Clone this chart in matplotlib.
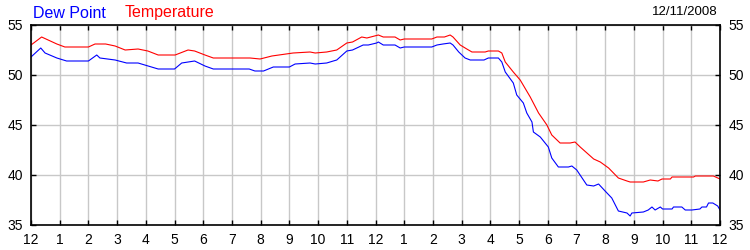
import matplotlib
matplotlib.use('Agg')
from matplotlib import pyplot as plt

# readings, hours since midnight
temp_hours = [0, 0.37, 0.9, 1.18, 2.0, 2.23, 2.6, 2.93, 3.28, 3.73, 4.07, 4.43, 5.02, 5.47, 5.7,
              6.06, 6.35, 7.63, 7.98, 8.39, 9.13, 9.72, 9.9, 10.3, 10.65, 11.0, 11.2, 11.52, 11.7,
              12.1, 12.27, 12.68, 12.86, 13.0, 13.96, 14.14, 14.4, 14.6, 14.7, 14.95, 15.18, 15.36,
              15.82, 15.93, 16.28, 16.4, 16.52, 16.8, 17.04, 17.39, 17.68, 17.97, 18.14, 18.43,
              18.78, 18.95, 19.13, 19.6, 19.83, 20.12, 20.46, 20.76, 20.87, 21.33, 21.57, 21.84,
              21.98, 22.27, 22.33, 23.08, 23.14, 23.77, 24.0]
temperature = [53.0, 53.8, 53.1, 52.8, 52.8, 53.1, 53.1, 52.9, 52.5, 52.6, 52.4, 52.0, 52.0, 52.5, 52.4,
               52.0, 51.7, 51.7, 51.6, 51.9, 52.2, 52.3, 52.2, 52.3, 52.5, 53.2, 53.3, 53.8, 53.7,
               54.0, 53.8, 53.8, 53.5, 53.6, 53.6, 53.8, 53.8, 54.0, 53.8, 53.0, 52.6, 52.3,
               52.3, 52.4, 52.4, 52.2, 51.3, 50.3, 49.5, 47.8, 46.2, 45.0, 44.0, 43.2,
               43.2, 43.3, 42.8, 41.6, 41.3, 40.7, 39.7, 39.4, 39.3, 39.3, 39.5, 39.4,
               39.6, 39.6, 39.8, 39.8, 39.9, 39.9, 39.6]

dew_hours = [0, 0.34, 0.49, 0.9, 1.24, 2.0, 2.29, 2.4, 2.93, 3.33, 3.73, 4.43, 5.0, 5.25, 5.7,
             6.06, 6.35, 7.6, 7.8, 8.1, 8.44, 9.0, 9.2, 9.72, 9.9, 10.3, 10.53, 10.65, 11.0, 11.2,
             11.57, 11.75, 12.04, 12.1, 12.27, 12.68, 12.86, 13.0, 13.96, 14.14, 14.35, 14.6, 14.7,
             14.9, 15.12, 15.3, 15.78, 15.93, 16.28, 16.4, 16.52, 16.8, 16.92, 17.15, 17.27, 17.45,
             17.5, 17.74, 18.02, 18.14, 18.37, 18.72, 18.84, 19.01, 19.36, 19.6, 19.77, 20.03,
             20.23, 20.46, 20.76, 20.87, 20.93, 21.33, 21.5, 21.63, 21.74, 21.92, 22.0, 22.33,
             22.38, 22.67, 22.79, 23.02, 23.3, 23.37, 23.53, 23.6, 23.75, 23.92, 24.0]
dew_point = [51.8, 52.7, 52.2, 51.7, 51.4, 51.4, 52.0, 51.7, 51.5, 51.2, 51.2, 50.6, 50.6, 51.2, 51.4,
             50.9, 50.6, 50.6, 50.4, 50.4, 50.8, 50.8, 51.1, 51.2, 51.1, 51.2, 51.4, 51.5, 52.4, 52.5,
             53.0, 53.0, 53.2, 53.3, 53.0, 53.0, 52.7, 52.8, 52.8, 53.0, 53.1, 53.2, 53.0,
             52.3, 51.7, 51.5, 51.5, 51.7, 51.7, 51.3, 50.3, 49.2, 48.0, 47.2, 46.2, 45.3,
             44.3, 43.8, 42.8, 41.7, 40.8, 40.8, 40.9, 40.5, 39.0, 38.9, 39.1, 38.3,
             37.7, 36.4, 36.2, 35.9, 36.2, 36.3, 36.5, 36.8, 36.5, 36.8, 36.6, 36.6,
             36.8, 36.8, 36.5, 36.5, 36.6, 36.8, 36.8, 37.2, 37.2, 36.9, 36.5]

hour_labels = ['12'] + [str(i) for i in range(1, 12)] + ['12'] + [str(i) for i in range(1, 12)] + ['12']
y_ticks = [35, 40, 45, 50, 55]
date_text = '12/11/2008'

plt.rcParams['font.family'] = ['Liberation Sans', 'DejaVu Sans']

fig = plt.figure(figsize=(7.5, 2.5), dpi=100)
ax = fig.add_axes([31 / 750, 0.1, 689 / 750, 0.8])

ax.plot(temp_hours, temperature, color='#ff0000', lw=0.8)
ax.plot(dew_hours, dew_point, color='#0000ff', lw=0.8)

ax.set_xlim(0, 24)
ax.set_ylim(35, 55)
ax.set_xticks(range(25))
ax.set_xticklabels(hour_labels)
ax.set_yticks(y_ticks)
ax.grid(True, color='#c8c8c8', lw=1)
ax.set_axisbelow(True)
for s in ax.spines.values():
    s.set_color('black')
    s.set_linewidth(1.2)
ax.tick_params(direction='in', length=3.6, width=1, labelsize=10, colors='black',
               top=True, right=True, labelright=True, pad=6)

fig.text(33 / 750, 1 - 13 / 250, 'Dew Point', color='#0000ff', fontsize=11.5, va='center', ha='left')
fig.text(125 / 750, 1 - 13 / 250, 'Temperature', color='#ff0000', fontsize=11.5, va='center', ha='left')
fig.text(718 / 750, 1 - 12 / 250, date_text, color='black', fontsize=9.5, va='center', ha='right')

fig.savefig('out.png', dpi=100)
